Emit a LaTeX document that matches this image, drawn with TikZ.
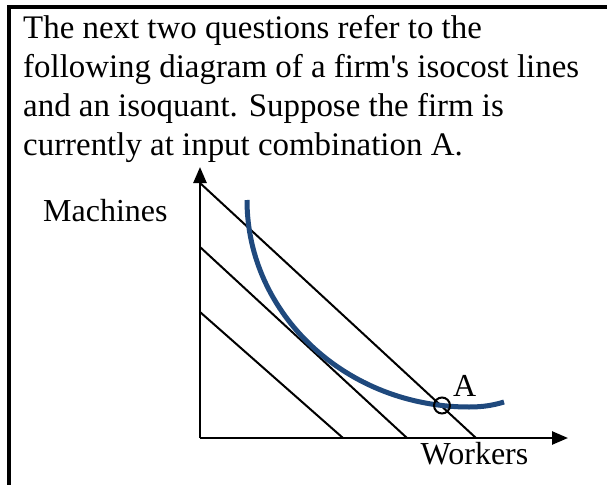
\documentclass[tikz,border=0pt]{standalone}
\usepackage{fontspec}
\setmainfont{Liberation Serif}
\usetikzlibrary{arrows.meta}
\definecolor{isoblue}{HTML}{1F497D}
\begin{document}
\begin{tikzpicture}[x=1pt,y=-1pt,
  txt/.style={anchor=base west,inner sep=0pt,font=\fontsize{32}{39}\selectfont},
  qtxt/.style={txt,font=\fontsize{32.9}{39}\selectfont},
  frameline/.style={line width=3.2pt},
  axisline/.style={line width=2.5pt,-{Triangle[length=16pt,width=13pt]}},
  isocost/.style={line width=2pt},
  isoquant/.style={line width=5pt,draw=isoblue},
  pointmark/.style={circle,draw,line width=2pt,minimum size=16pt,inner sep=0pt}
]
\useasboundingbox (0,0) rectangle (607,484);
\clip (0,0) rectangle (607,484);
\fill[white] (0,0) rectangle (607,484);
% frame
\draw[frameline] (9,500) -- (9,7) -- (620,7);
% question text
\node[qtxt] (l1) at (23,38.5) {The next two questions refer to the};
\node[qtxt] (l2) at (23,77.5) {following diagram of a firm\textquotesingle s isocost lines};
\node[qtxt] (l3) at (23,116.5) {and an isoquant.  Suppose the firm is};
\node[qtxt] (l4) at (23,155.5) {currently at input combination A.};
% axes
\coordinate (O) at (200,438);
\coordinate (ytip) at (200,167);
\coordinate (xtip) at (568,438);
\draw[axisline] (O) -- (ytip);
\draw[axisline] (O) -- (xtip);
\node[txt] (machines) at (43,221) {Machines};
\node[txt] (workers) at (420.5,464) {Workers};
% isocost lines
\coordinate (c1a) at (200,183); \coordinate (c1b) at (476,438);
\coordinate (c2a) at (200,247); \coordinate (c2b) at (407,438);
\coordinate (c3a) at (200,312); \coordinate (c3b) at (343,438);
\draw[isocost] (c1a) -- (c1b);
\draw[isocost] (c2a) -- (c2b);
\draw[isocost] (c3a) -- (c3b);
% isoquant
\coordinate (qs) at (247,200);
\coordinate (qe) at (504,402);
\draw[isoquant] (qs) arc[start angle=180,end angle=90,x radius=222,y radius=207]
  .. controls (484,407) and (494,405) .. (qe);
% point A
\node[pointmark] (A) at (442,405.5) {};
\node[txt] (Alabel) at (453,396) {A};
\end{tikzpicture}
\end{document}
